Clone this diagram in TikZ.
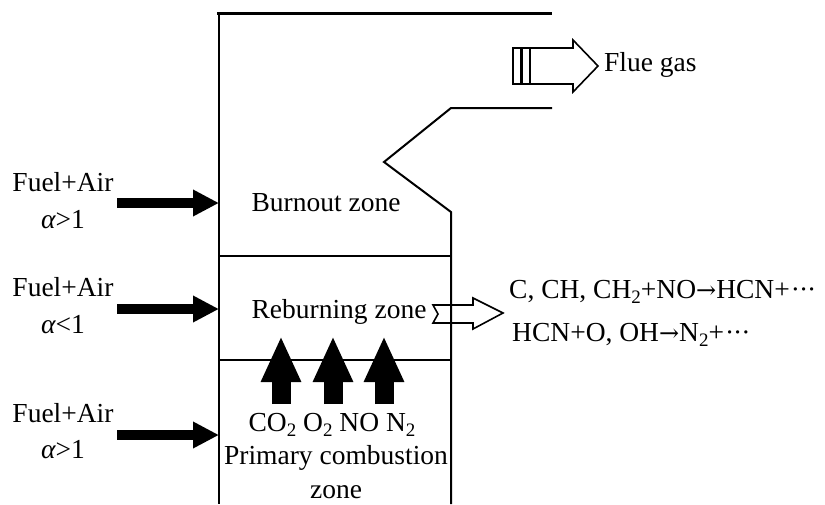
\documentclass[tikz,border=0pt]{standalone}
\usepackage{fontspec}
\setmainfont{Liberation Serif}
\newfontfamily\arrfont{DejaVu Serif}
\usetikzlibrary{arrows.meta}
\newcommand{\sbs}[1]{\raisebox{-0.45ex}{\fontsize{19}{19}\selectfont #1}}
\newcommand{\mdots}{\kern1pt\textperiodcentered\kern-1pt\textperiodcentered\kern-1pt\textperiodcentered}
\newcommand{\rarr}{{\arrfont\fontsize{24}{24}\selectfont →}}
\tikzset{
  lbl/.style={inner sep=0pt, font=\fontsize{27.5}{30}\selectfont},
  wall/.style={line width=2pt, line join=miter},
  feed/.style={line width=10pt, -{Triangle[length=26pt,width=25pt]}},
  rise/.style={line width=19pt, -{Triangle[length=46pt,width=37pt]}},
  hollow/.style={line width=1.6pt, line join=miter}
}
\begin{document}
\begin{tikzpicture}[x=1pt,y=-1pt]
\useasboundingbox (0,0) rectangle (825,504);
% furnace walls
\draw[line width=3pt] (217,13) -- (552,13);
\draw[wall] (219,13) -- (219,504);
\draw[wall] (451,504) -- (451,212) -- (384,162) -- (451,108) -- (552,108);
\draw[wall] (219,256) -- (451,256);
\draw[wall] (219,360) -- (451,360);

% left feed labels
\node[lbl] (f1) at (63,182) {Fuel+Air};
\node[lbl] (a1) at (63,220) {\itshape α\upshape{}>1};
\node[lbl] (f2) at (63,287) {Fuel+Air};
\node[lbl] (a2) at (63,325) {\itshape α\upshape{}<1};
\node[lbl] (f3) at (63,413) {Fuel+Air};
\node[lbl] (a3) at (63,450) {\itshape α\upshape{}>1};

% feed arrows
\coordinate (s1) at (117,203); \coordinate (e1) at (219,203);
\coordinate (s2) at (117,309); \coordinate (e2) at (219,309);
\coordinate (s3) at (117,435); \coordinate (e3) at (219,435);
\draw[feed] (s1) -- (e1);
\draw[feed] (s2) -- (e2);
\draw[feed] (s3) -- (e3);

% zone labels
\node[lbl] (burn) at (326,203) {Burnout zone};
\node[lbl] (reb) at (339,312) {Reburning zone};
\node[lbl, anchor=base] (gas) at (332,431) {CO\sbs{2} O\sbs{2} NO N\sbs{2}};
\node[lbl] (prim) at (336,458) {Primary combustion};
\node[lbl] (zone) at (336,492) {zone};

% rising arrows
\coordinate (u1b) at (281,404); \coordinate (u1t) at (281,336);
\coordinate (u2b) at (333,404); \coordinate (u2t) at (333,336);
\coordinate (u3b) at (384,404); \coordinate (u3t) at (384,336);
\draw[rise] (u1b) -- (u1t);
\draw[rise] (u2b) -- (u2t);
\draw[rise] (u3b) -- (u3t);

% flue gas arrow
\draw[hollow] (513,48) rectangle (521,84);
\draw[hollow] (522,48) rectangle (530,84);
\draw[hollow] (530,48) -- (573,48) -- (573,40) -- (598,66) -- (573,92) -- (573,84) -- (530,84);
\node[lbl, anchor=west] (flue) at (604,65) {Flue gas};

% reburning output arrow
\draw[hollow] (433,305) -- (473,305) -- (473,298) -- (503,313) -- (473,329) -- (473,323) -- (433,323) -- (438,314) -- cycle;
\node[lbl, anchor=west] (r1) at (509,292) {C, CH, CH\sbs{2}+NO\rarr HCN+\mdots};
\node[lbl, anchor=west] (r2) at (512,335) {HCN+O, OH\rarr N\sbs{2}+\mdots};
\end{tikzpicture}
\end{document}
